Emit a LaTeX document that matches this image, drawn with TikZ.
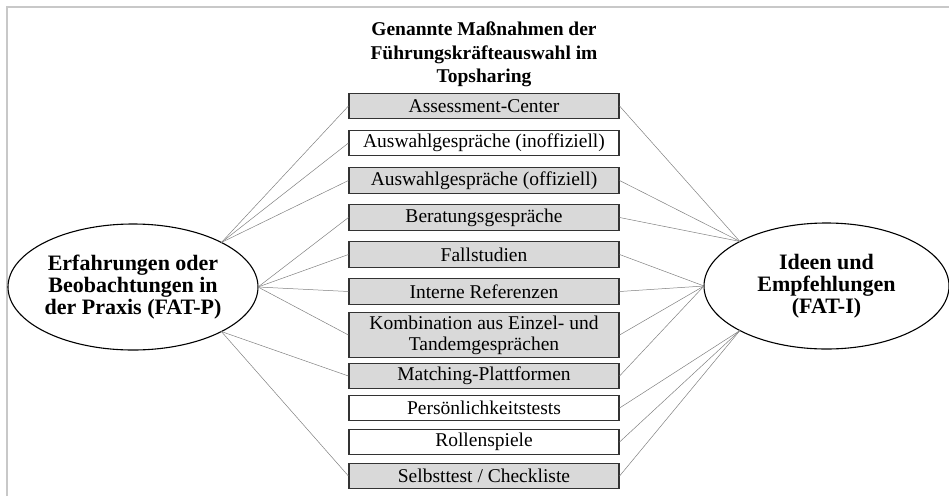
\documentclass[tikz,border=0pt]{standalone}
\usepackage{fontspec}
\setmainfont{Liberation Serif}
\usetikzlibrary{shapes.geometric}
\definecolor{boxgray}{HTML}{D9D9D9}
\definecolor{framegray}{HTML}{C8C8C8}

\begin{document}
\begin{tikzpicture}[x=1pt,y=-1pt,
    mbox/.style={draw=black!80,line width=1.1pt,fill=boxgray,minimum width=270pt,
      minimum height=25.5pt,inner sep=0pt,align=center,
      font=\fontsize{19.5}{21}\selectfont},
    wbox/.style={mbox,fill=white},
    src/.style={draw,ellipse,line width=1.1pt,minimum width=250pt,minimum height=126pt,
      inner sep=0pt,outer sep=0pt,align=center,font=\bfseries\fontsize{22}{22}\selectfont},
    link/.style={gray,line width=0.5pt}]
    \useasboundingbox (0,0) rectangle (949,496);
    \draw [framegray,line width=2pt] (7,496) -- (7,7) -- (949,7);

    \node [align=center,font=\bfseries\fontsize{19.5}{23.5}\selectfont] (title) at (484,54.5)
      {Genannte Maßnahmen der\\Führungskräfteauswahl im\\Topsharing};

    \node [mbox] (ac) at (484,106) {Assessment-Center};
    \node [wbox] (awi) at (484,143) {Auswahlgespräche (inoffiziell)};
    \node [mbox] (awo) at (484,180.5) {Auswahlgespräche (offiziell)};
    \node [mbox] (bg) at (484,217.5) {Beratungsgespräche};
    \node [mbox] (fs) at (484,254.5) {Fallstudien};
    \node [mbox] (ir) at (484,291.5) {Interne Referenzen};
    \node [mbox,minimum height=45pt] (kb) at (484,335) {Kombination aus Einzel- und\\Tandemgesprächen};
    \node [mbox] (mp) at (484,376) {Matching-Plattformen};
    \node [wbox] (pt) at (484,408) {Persönlichkeitstests};
    \node [wbox] (rs) at (484,442) {Rollenspiele};
    \node [mbox] (st) at (484,476) {Selbsttest / Checkliste};

    \node [src] (fatp) at (133,287) {Erfahrungen oder\\Beobachtungen in\\der Praxis (FAT-P)};
    \node [src,minimum width=245pt] (fati) at (826.5,286) {Ideen und\\Empfehlungen\\(FAT-I)};

    % Praxis
    \foreach \b in {ac,awi,awo}
      \draw [link] (fatp.north east) -- (\b.west);
    \foreach \b in {bg,fs,ir,kb}
      \draw [link] (fatp.east) -- (\b.west);
    \foreach \b in {mp,st}
      \draw [link] (fatp.south east) -- (\b.west);

    % Ideen
    \foreach \b in {ac,awo,bg}
      \draw [link] (\b.east) -- (fati.north west);
    \foreach \b in {fs,ir,kb,mp}
      \draw [link] (\b.east) -- (fati.west);
    \foreach \b in {pt,rs,st}
      \draw [link] (\b.east) -- (fati.south west);
  \end{tikzpicture}
\end{document}
